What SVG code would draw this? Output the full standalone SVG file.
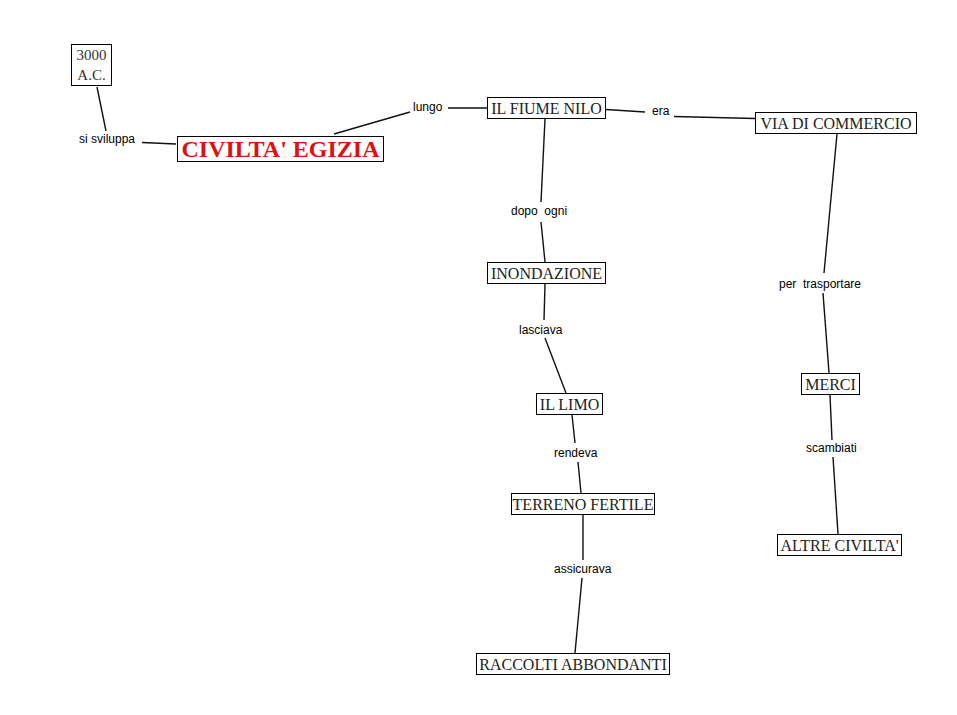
<svg xmlns="http://www.w3.org/2000/svg" width="957" height="715" viewBox="0 0 957 715">
<style>
.box{fill:#fff;stroke:#000;stroke-width:1}
.nt{font-family:"Liberation Serif","Times New Roman",serif;font-size:16px;fill:#222;text-anchor:middle}
.lb{font-family:"Liberation Sans",Arial,sans-serif;font-size:12px;fill:#000;white-space:pre}
.cn line{stroke:#111;stroke-width:1.4}
</style>
<rect width="957" height="715" fill="#fff"/>
<g id="connectors" class="cn">
<line x1="97" y1="87" x2="106" y2="131"/>
<line x1="142" y1="142.5" x2="176" y2="144"/>
<line x1="334" y1="134" x2="410" y2="112"/>
<line x1="448" y1="108" x2="487" y2="108"/>
<line x1="606" y1="109.5" x2="645" y2="112"/>
<line x1="674" y1="116.5" x2="755" y2="118.5"/>
<line x1="545" y1="119" x2="541" y2="202"/>
<line x1="541" y1="222" x2="545" y2="262"/>
<line x1="545" y1="284" x2="544" y2="320"/>
<line x1="545" y1="338" x2="566" y2="393"/>
<line x1="572" y1="415" x2="575" y2="443"/>
<line x1="578" y1="462" x2="581" y2="493"/>
<line x1="583" y1="515" x2="583" y2="560"/>
<line x1="582" y1="578" x2="575" y2="653"/>
<line x1="837" y1="134" x2="824" y2="273"/>
<line x1="823" y1="293" x2="829" y2="373"/>
<line x1="830" y1="395" x2="832" y2="440"/>
<line x1="833" y1="457" x2="838" y2="534"/>
</g>
<g id="labels">
<text class="lb" x="79" y="143">si sviluppa</text>
<text class="lb" x="413" y="111">lungo</text>
<text class="lb" x="652" y="115">era</text>
<text class="lb" x="511" y="215" xml:space="preserve">dopo  ogni</text>
<text class="lb" x="519" y="334">lasciava</text>
<text class="lb" x="554" y="457">rendeva</text>
<text class="lb" x="554" y="573">assicurava</text>
<text class="lb" x="779" y="288" xml:space="preserve">per  trasportare</text>
<text class="lb" x="806" y="452">scambiati</text>
</g>
<g id="n3000">
<rect class="box" x="71.5" y="44.5" width="40" height="41"/>
<text class="nt" x="91.5" y="60" style="font-size:15px;fill:#333">3000</text>
<text class="nt" x="91.5" y="80" style="font-size:15px;fill:#333">A.C.</text>
</g>
<g id="civilta">
<rect class="box" x="177.5" y="136.5" width="206" height="25"/>
<text class="nt" x="280.5" y="157" style="font-size:24px;font-weight:bold;fill:#dd1111">CIVILTA' EGIZIA</text>
</g>
<g id="nilo">
<rect class="box" x="487.5" y="97.5" width="118" height="21"/>
<text class="nt" x="546.5" y="113.5">IL FIUME NILO</text>
</g>
<g id="commercio">
<rect class="box" x="755.5" y="112.5" width="161" height="21"/>
<text class="nt" x="836" y="128.5">VIA DI COMMERCIO</text>
</g>
<g id="inondazione">
<rect class="box" x="487.5" y="262.5" width="118" height="21"/>
<text class="nt" x="546.5" y="278.5">INONDAZIONE</text>
</g>
<g id="limo">
<rect class="box" x="536.5" y="393.5" width="66" height="21"/>
<text class="nt" x="569.5" y="409.5">IL LIMO</text>
</g>
<g id="terreno">
<rect class="box" x="511.5" y="493.5" width="143" height="21"/>
<text class="nt" x="583" y="509.5">TERRENO FERTILE</text>
</g>
<g id="raccolti">
<rect class="box" x="476.5" y="653.5" width="193" height="21"/>
<text class="nt" x="573" y="669.5">RACCOLTI ABBONDANTI</text>
</g>
<g id="merci">
<rect class="box" x="801.5" y="373.5" width="58" height="21"/>
<text class="nt" x="830.5" y="389.5">MERCI</text>
</g>
<g id="altre">
<rect class="box" x="777.5" y="534.5" width="124" height="21"/>
<text class="nt" x="839.5" y="550.5">ALTRE CIVILTA'</text>
</g>
</svg>
